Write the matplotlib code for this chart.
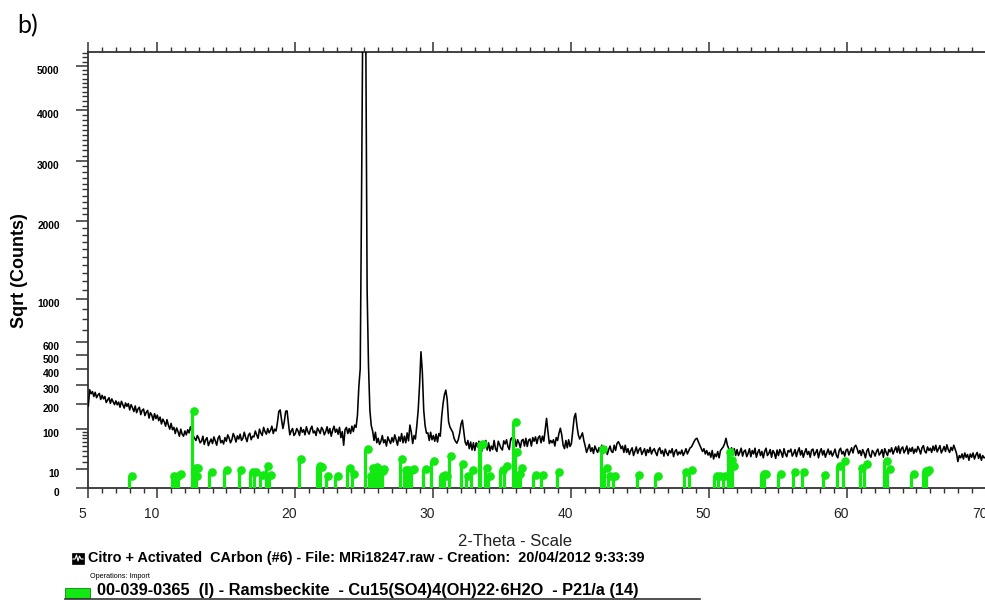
import numpy as np
import matplotlib
matplotlib.use('Agg')
import matplotlib.pyplot as plt
from matplotlib.transforms import ScaledTranslation
from matplotlib.patches import Rectangle
from matplotlib.lines import Line2D

plt.rcParams['font.family'] = ['Liberation Sans', 'DejaVu Sans']

# 2-Theta scan, 0.1 deg step from 5.0 to 70.0
theta_start, theta_step = 5.0, 0.1
counts = [
    190, 272, 250, 262, 236, 258, 230, 244, 252, 221,   # 5
    242, 224, 236, 206, 218, 230, 202, 224, 210, 196,   # 6
    214, 195, 208, 184, 212, 196, 180, 204, 188, 201,   # 7
    172, 196, 182, 165, 190, 160, 176, 184, 152, 170,   # 8
    176, 148, 162, 170, 138, 160, 150, 130, 156, 136,   # 9
    150, 128, 142, 116, 134, 124, 108, 132, 112, 98,    # 10
    118, 96, 104, 84, 102, 90, 76, 98, 82, 76,          # 11
    92, 80, 96, 86, 106, 92, 78, 70, 64, 78,            # 12
    70, 58, 62, 76, 54, 66, 72, 51, 60, 68,             # 13
    56, 74, 63, 52, 70, 77, 58, 64, 55, 72,             # 14
    62, 80, 71, 58, 66, 84, 74, 60, 77, 68,             # 15
    82, 64, 70, 88, 72, 61, 79, 85, 66, 76,             # 16
    74, 92, 80, 70, 98, 86, 78, 104, 90, 82,            # 17
    100, 86, 94, 108, 84, 98, 92, 120, 165, 172,        # 18
    132, 100, 125, 166, 168, 118, 80, 92, 100, 78,      # 19
    84, 100, 92, 78, 104, 88, 96, 80, 106, 90,          # 20
    82, 98, 108, 86, 92, 78, 102, 94, 84, 104,          # 21
    96, 80, 90, 106, 84, 100, 76, 94, 108, 88,          # 22
    98, 82, 104, 72, 90, 52, 96, 104, 84, 100,          # 23
    84, 108, 90, 112, 104, 150, 289, 400, 2500, 7000,   # 24
    7500, 6000, 1100, 420, 170, 110, 92, 64, 88, 58,    # 25
    70, 54, 62, 78, 58, 66, 50, 74, 64, 56,             # 26
    72, 60, 80, 66, 52, 74, 62, 84, 58, 76,             # 27
    58, 86, 63, 112, 88, 56, 78, 68, 110, 171,          # 28
    300, 522, 380, 171, 110, 85, 86, 64, 88, 66,        # 29
    78, 62, 82, 60, 84, 76, 143, 200, 245, 270,         # 30
    220, 125, 105, 96, 88, 70, 62, 57, 66, 84,          # 31
    115, 130, 92, 60, 52, 64, 44, 60, 41, 58,           # 32
    40, 58, 48, 62, 42, 38, 56, 46, 64, 41,             # 33
    58, 39, 50, 42, 64, 44, 38, 62, 53, 45,             # 34
    41, 63, 55, 66, 49, 42, 68, 72, 52, 68,             # 35
    49, 66, 58, 46, 64, 67, 50, 70, 49, 65,             # 36
    68, 50, 72, 62, 74, 56, 72, 77, 58, 76,             # 37
    62, 95, 137, 90, 56, 64, 58, 66, 50, 72,            # 38
    64, 85, 101, 80, 52, 44, 64, 46, 66, 49,            # 39
    56, 95, 140, 157, 110, 80, 68, 76, 86, 64,          # 40
    50, 36, 44, 54, 38, 46, 34, 50, 42, 36,             # 41
    46, 38, 52, 34, 44, 48, 32, 42, 50, 38,             # 42
    36, 52, 40, 56, 61, 54, 44, 50, 36, 52,             # 43
    36, 44, 32, 40, 46, 30, 38, 48, 34, 42,             # 44
    46, 32, 38, 44, 30, 42, 36, 47, 33, 40,             # 45
    44, 36, 30, 42, 46, 34, 40, 29, 43, 35,             # 46
    30, 40, 35, 44, 28, 38, 42, 31, 37, 33,             # 47
    41, 30, 36, 44, 33, 39, 46, 48, 55, 62,             # 48
    68, 70, 60, 52, 45, 38, 44, 33, 40, 31,             # 49
    36, 27, 40, 24, 33, 28, 38, 26, 40, 44,             # 50
    48, 56, 70, 52, 44, 34, 46, 31, 44, 30,             # 51
    42, 30, 36, 45, 29, 38, 41, 28, 34, 44,             # 52
    28, 40, 33, 45, 27, 36, 42, 30, 38, 26,             # 53
    38, 45, 30, 34, 42, 27, 40, 35, 25, 41,             # 54
    30, 42, 36, 27, 44, 33, 28, 40, 37, 43,             # 55
    29, 34, 42, 28, 38, 46, 31, 40, 27, 36,             # 56
    44, 32, 38, 27, 41, 43, 30, 36, 42, 26,             # 57
    37, 44, 31, 40, 27, 35, 43, 32, 39, 29,             # 58
    35, 43, 30, 26, 40, 45, 33, 38, 29, 41,             # 59
    43, 31, 38, 46, 35, 48, 52, 44, 34, 40,             # 60
    30, 42, 35, 26, 39, 44, 31, 27, 40, 36,             # 61
    29, 38, 43, 31, 35, 42, 27, 44, 36, 30,             # 62
    42, 37, 46, 33, 40, 48, 36, 50, 34, 44,             # 63
    48, 35, 41, 50, 33, 45, 38, 47, 34, 43,             # 64
    37, 49, 42, 33, 46, 51, 38, 35, 48, 40,             # 65
    45, 36, 50, 40, 52, 37, 44, 51, 35, 41,             # 66
    49, 38, 53, 42, 36, 47, 40, 52, 43, 34,             # 67
    20, 30, 26, 33, 24, 35, 27, 32, 22, 33,             # 68
    27, 35, 24, 31, 36, 25, 33, 22, 30, 26,             # 69
    27,                                                 # 70
]
two_theta = theta_start + theta_step * np.arange(len(counts))

# Ramsbeckite reference lines (2-Theta, height in counts)
stick_pos = [7.98, 11.05, 11.29, 11.53, 12.5, 12.6, 12.7, 12.8, 13.76, 14.85,
             15.91, 16.73, 16.97, 17.46, 17.85, 18.07, 20.24, 21.57, 21.77, 22.2,
             22.9, 23.75, 24.1, 25.08, 25.3, 25.45, 25.6, 25.75, 25.85, 26.0,
             26.15, 26.25, 27.57, 27.85, 28.0, 28.26, 28.4, 29.27, 29.85, 30.5,
             30.65, 30.8, 31.13, 31.97, 32.35, 32.7, 33.3, 33.4, 33.72, 33.95,
             34.83, 35.12, 35.8, 35.9, 36.06, 36.26, 37.25, 37.78, 38.92, 42.13,
             42.37, 42.65, 43.0, 44.74, 46.07, 48.13, 48.55, 50.36, 50.6, 50.97,
             51.33, 51.45, 51.6, 53.75, 53.95, 55.0, 56.04, 56.7, 58.22, 59.26,
             59.67, 60.88, 61.2, 62.65, 62.9, 64.63, 65.48, 65.6, 65.72]
stick_h = [4, 4, 4, 5.5, 169, 11, 4, 11, 7, 9.5,
           9.5, 7.5, 7.5, 5, 14, 5, 23.5, 14, 12.5, 4,
           4, 11, 5.5, 44, 4, 11, 9, 13, 10, 9,
           8, 10, 23.5, 9.5, 9.5, 9.5, 10, 10, 21, 4,
           5, 4.5, 29, 16, 4, 9.5, 52, 54, 11.5, 4,
           9.5, 14, 124, 37.5, 6, 11.5, 5, 5, 7, 43,
           11, 4, 4, 5, 4, 7.5, 9.5, 4, 4, 4,
           37.5, 23, 14, 5.5, 5.5, 5.5, 7, 7, 5, 14,
           21, 11, 16, 21, 10, 5.5, 8.5, 7.5, 9]

y_major = [0, 10, 100, 200, 300, 400, 500, 600, 1000, 2000, 3000, 4000, 5000]
y_minor = [20, 30, 40, 50, 60, 70, 80, 90, 700, 800, 900] + \
          [v for v in range(1100, 5400, 100) if v % 1000 != 0]
x_major = [5, 10, 20, 30, 40, 50, 60, 70]
x_minor = list(range(5, 71))

green = '#12E812'

fig = plt.figure(figsize=(9.85, 6), dpi=100)
W, H = 985, 600
ax = fig.add_axes([88.3 / W, (H - 488.3) / H, (985.5 - 88.3) / W, (488.3 - 52) / H])

ax.set_yscale('function', functions=(lambda v: np.sqrt(np.clip(v, 0, None)), np.square))
ax.set_xlim(5, 70)
ax.set_ylim(0, 5330)

ax.plot(two_theta, counts, color='black', lw=1.15, zorder=3)

ax.vlines(stick_pos, 0, stick_h, color=green, lw=2.3, zorder=4)
shift = ScaledTranslation(2.5 / 100, 0, fig.dpi_scale_trans)
ax.plot(stick_pos, stick_h, 'o', ms=5.2, color=green, mec=green,
        transform=ax.transData + shift, zorder=5, clip_on=False)

# ticks
ax.set_xticks(x_major)
ax.set_xticks(x_minor, minor=True)
ax.set_yticks(y_major)
ax.set_yticks(y_minor, minor=True)
ax.set_yticklabels([str(v) for v in y_major])
ax.set_xticklabels([str(v) for v in x_major])

ax.tick_params(axis='x', which='major', direction='out', length=7.2, width=1.1,
               color='#333333', labelsize=10, labelcolor='#222222', pad=6,
               top=True)
ax.tick_params(axis='x', which='minor', direction='out', length=3.6, width=1.0,
               color='#333333', top=True)
ax.tick_params(axis='y', which='major', direction='out', length=8.6, width=1.1,
               color='#333333', labelsize=7.4, pad=12)
ax.tick_params(axis='y', which='minor', direction='out', length=4.5, width=1.0,
               color='#333333')
for lab in ax.get_yticklabels():
    lab.set_fontweight('bold')
    lab.set_transform(lab.get_transform() + ScaledTranslation(0, -4 / 100, fig.dpi_scale_trans))
for lab in ax.get_xticklabels():
    lab.set_transform(lab.get_transform() + ScaledTranslation(-6 / 100, 0, fig.dpi_scale_trans))

for side in ['left', 'bottom', 'top']:
    ax.spines[side].set_color('#333333')
    ax.spines[side].set_linewidth(1.3)
ax.spines['right'].set_visible(False)

fig.text(20 / W, 1 - 271 / H, 'Sqrt (Counts)', rotation=90, fontsize=13,
         fontweight='bold', ha='center', va='center')

# lower caption block
fig.text(515 / W, 1 - 541 / H, '2-Theta - Scale', fontsize=12,
         color='#222222', ha='center', va='center')

fig.patches.append(Rectangle((72 / W, 1 - 564 / H), 12 / W, 11 / H,
                             transform=fig.transFigure, facecolor='black',
                             edgecolor='black', lw=0.5))
fig.lines.append(Line2D(np.array([73, 75, 76.5, 78, 79.5, 81, 83]) / W,
                        1 - np.array([559, 559, 555, 561, 556, 559, 559]) / H,
                        transform=fig.transFigure, color='white', lw=0.8))
fig.text(88 / W, 1 - 558 / H,
         'Citro + Activated  CArbon (#6) - File: MRi18247.raw - Creation:  20/04/2012 9:33:39',
         fontsize=10.4, fontweight='bold', ha='left', va='center')
fig.text(90 / W, 1 - 577 / H, 'Operations: Import', fontsize=5.2,
         ha='left', va='center')
fig.patches.append(Rectangle((65 / W, 1 - 598 / H), 25 / W, 10 / H,
                             transform=fig.transFigure, facecolor=green,
                             edgecolor='#0a8a0a', lw=0.6))
fig.text(97 / W, 1 - 590 / H,
         '00-039-0365  (I) - Ramsbeckite  - Cu15(SO4)4(OH)22\u00b76H2O  - P21/a (14)',
         fontsize=11.8, fontweight='bold', ha='left', va='center')
fig.lines.append(Line2D([65 / W, 700 / W], [1 - 598.5 / H, 1 - 598.5 / H],
                        transform=fig.transFigure, color='#333333', lw=1.2))

fig.text(17 / W, 1 - 26 / H, 'b)', fontsize=18, family=['Lato', 'DejaVu Sans'],
         ha='left', va='center', color='black')

fig.savefig('out.png', dpi=100)
